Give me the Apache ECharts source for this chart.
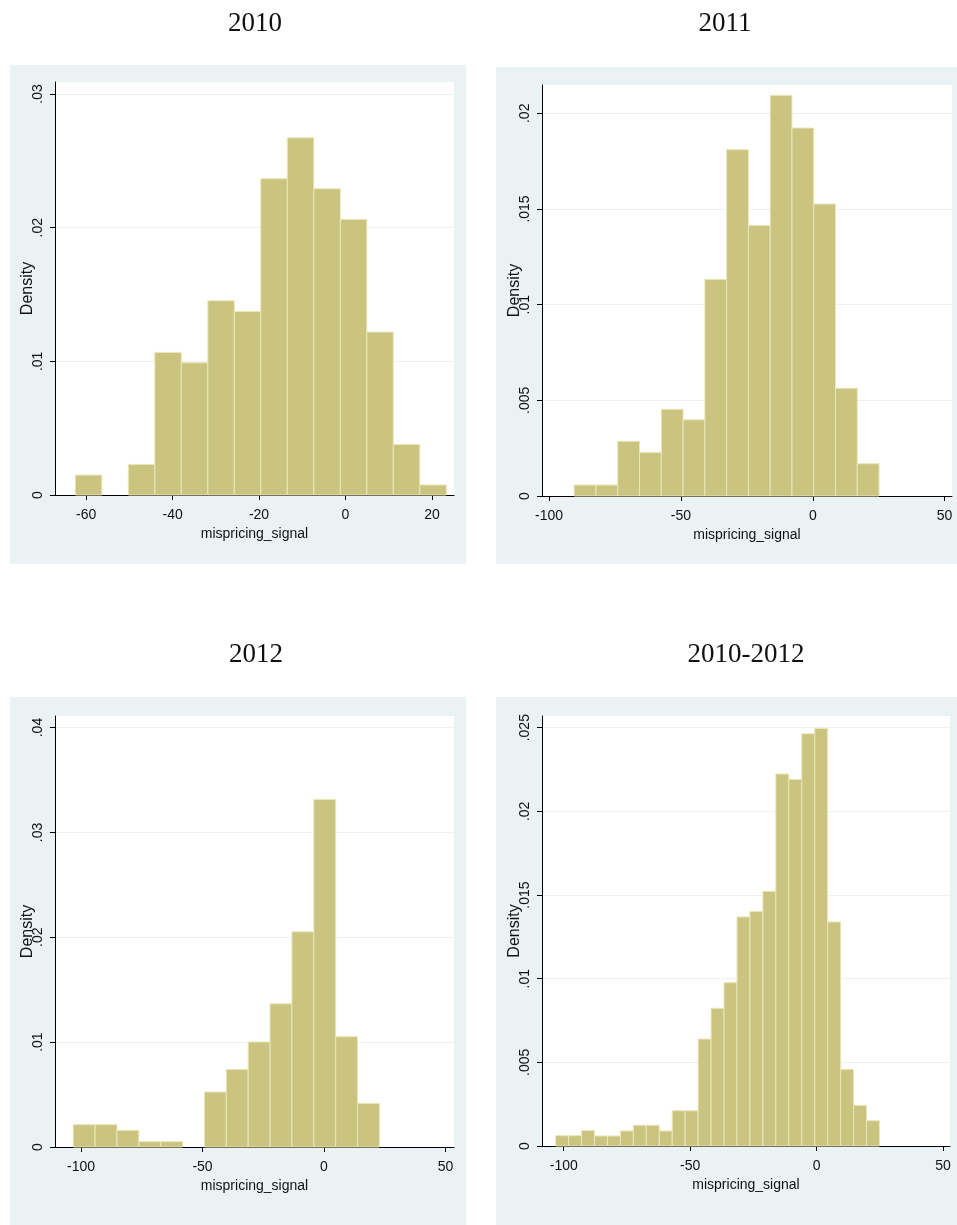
<!DOCTYPE html>
<html>
<head>
<meta charset="utf-8">
<script src="https://cdn.jsdelivr.net/npm/echarts@6/dist/echarts.min.js"></script>
<style>
  html, body { margin: 0; padding: 0; background: #ffffff; }
  #chart { width: 957px; height: 1225px; }
</style>
</head>
<body>
<div id="chart"></div>
<script>
// Density histograms of mispricing_signal, one panel per period.

const panelTitles = ['2010', '2011', '2012', '2010-2012'];

// Bin layout (first edge, bin width) and bar heights (density) per panel
const binStart2010 = -62.5, binWidth2010 = 6.13;
const density2010 = [0.00149, 0, 0.00229, 0.01067, 0.0099, 0.01453, 0.01373,
                     0.02366, 0.02672, 0.02291, 0.02062, 0.01219, 0.00378, 0.00075];

const binStart2011 = -90.5, binWidth2011 = 8.26;
const density2011 = [0.000575, 0.000575, 0.00286, 0.00227, 0.00453, 0.00398, 0.01132,
                     0.0181, 0.01414, 0.02094, 0.01923, 0.01526, 0.00563, 0.00169];

const binStart2012 = -103.2, binWidth2012 = 9.0;
const density2012 = [0.00213, 0.00213, 0.00159, 0.00051, 0.00051, 0, 0.00524,
                     0.0074, 0.01001, 0.01366, 0.02052, 0.03314, 0.01052, 0.00416];

const binStartAll = -103.2, binWidthAll = 5.124;
const densityAll = [0.00062, 0.00062, 0.00092, 0.0006, 0.0006, 0.0009, 0.00124, 0.00124,
                    0.0009, 0.00211, 0.00211, 0.00639, 0.00823, 0.00976, 0.01369, 0.01402,
                    0.01522, 0.02223, 0.02191, 0.02464, 0.02496, 0.01339, 0.00458, 0.00243, 0.00151];

// Tick labels
const xTicks2010 = [-60, -40, -20, 0, 20];
const xTicksWide = [-100, -50, 0, 50];
const yTicks2010 = [0, 0.01, 0.02, 0.03];
const yTicks2011 = [0, 0.005, 0.01, 0.015, 0.02];
const yTicks2012 = [0, 0.01, 0.02, 0.03, 0.04];
const yTicksAll  = [0, 0.005, 0.01, 0.015, 0.02, 0.025];

// Axis ranges
const xRange2010 = [-67.2, 25.1], yMax2010 = 0.0309, yStep2010 = 0.01;
const xRange2011 = [-102.7, 52.8], yMax2011 = 0.02148, yStep2011 = 0.005;
const xRange2012 = [-110.7, 53.5], yMax2012 = 0.0411, yStep2012 = 0.01;
const xRangeAll  = [-108.6, 52.8], yMaxAll  = 0.0257, yStepAll  = 0.005;

const BAR_FILL = '#CBC480';
const BAR_EDGE = '#EAE6B8';
const REGION_BG = '#EAF2F3';
const GRID_LINE = '#EAF2F3';
const LABEL_FONT = '"Liberation Sans", Arial, sans-serif';
const TITLE_FONT = '"Liberation Serif", "DejaVu Serif", serif';

const panels = [
  { title: panelTitles[0], start: binStart2010, width: binWidth2010, dens: density2010,
    xr: xRange2010, xt: xTicks2010, ymax: yMax2010, ystep: yStep2010, yt: yTicks2010,
    box: [10, 65, 456, 499], grid: [55, 82, 399, 413], tx: 250, ty: 5 },
  { title: panelTitles[1], start: binStart2011, width: binWidth2011, dens: density2011,
    xr: xRange2011, xt: xTicksWide, ymax: yMax2011, ystep: yStep2011, yt: yTicks2011,
    box: [496, 67, 461, 497], grid: [542, 85, 410, 411], tx: 720, ty: 5 },
  { title: panelTitles[2], start: binStart2012, width: binWidth2012, dens: density2012,
    xr: xRange2012, xt: xTicksWide, ymax: yMax2012, ystep: yStep2012, yt: yTicks2012,
    box: [10, 697, 456, 528], grid: [55, 716, 399, 431], tx: 251, ty: 636 },
  { title: panelTitles[3], start: binStartAll, width: binWidthAll, dens: densityAll,
    xr: xRangeAll, xt: xTicksWide, ymax: yMaxAll, ystep: yStepAll, yt: yTicksAll,
    box: [496, 697, 461, 528], grid: [542, 716, 408, 430], tx: 741, ty: 636 }
];

function densityLabel(v) {
  if (Math.abs(v) < 1e-12) return '0';
  return String(+v.toFixed(4)).replace(/^0\./, '.');
}

function renderBin(params, api) {
  const h = api.value(2);
  if (!(h > 0)) return null;
  const topLeft = api.coord([api.value(0), h]);
  const bottomRight = api.coord([api.value(1), 0]);
  return {
    type: 'rect',
    shape: {
      x: topLeft[0], y: topLeft[1],
      width: bottomRight[0] - topLeft[0],
      height: bottomRight[1] - topLeft[1]
    },
    style: { fill: BAR_FILL, stroke: BAR_EDGE, lineWidth: 1 }
  };
}

const option = {
  backgroundColor: '#ffffff',
  animation: false,
  title: panels.map(p => ({
    text: p.title, left: p.tx, top: p.ty, textAlign: 'center',
    textStyle: { fontFamily: TITLE_FONT, fontSize: 27, fontWeight: 'normal', color: '#111' }
  })),
  graphic: panels.map(p => ({
    type: 'rect', z: -10, silent: true,
    shape: { x: p.box[0], y: p.box[1], width: p.box[2], height: p.box[3] },
    style: { fill: REGION_BG }
  })),
  grid: panels.map(p => ({
    left: p.grid[0], top: p.grid[1], width: p.grid[2], height: p.grid[3],
    show: true, backgroundColor: '#ffffff', borderWidth: 0, containLabel: false
  })),
  xAxis: panels.map((p, i) => ({
    type: 'value', gridIndex: i, min: p.xr[0], max: p.xr[1],
    name: 'mispricing_signal', nameLocation: 'middle', nameGap: 32, nameMoveOverlap: false,
    nameTextStyle: { fontFamily: LABEL_FONT, fontSize: 14, color: '#111' },
    axisLine: { show: true, onZero: false, lineStyle: { color: '#000', width: 1 } },
    axisTick: { show: true, length: 5, customValues: p.xt, lineStyle: { color: '#000' } },
    axisLabel: { customValues: p.xt, margin: 13, fontFamily: LABEL_FONT, fontSize: 14, color: '#111' },
    splitLine: { show: false }
  })),
  yAxis: panels.map((p, i) => ({
    type: 'value', gridIndex: i, min: 0, max: p.ymax, interval: p.ystep,
    name: 'Density', nameLocation: 'middle', nameGap: 19, nameRotate: 90, nameMoveOverlap: false,
    nameTextStyle: { fontFamily: LABEL_FONT, fontSize: 16, color: '#111' },
    axisLine: { show: true, onZero: false, lineStyle: { color: '#000', width: 1 } },
    axisTick: { show: true, length: 5, customValues: p.yt, lineStyle: { color: '#000' } },
    axisLabel: { customValues: p.yt, rotate: 90, margin: 10, formatter: densityLabel,
                 fontFamily: LABEL_FONT, fontSize: 14, color: '#111' },
    splitLine: { show: true, lineStyle: { color: GRID_LINE, width: 1 } }
  })),
  series: panels.map((p, i) => ({
    type: 'custom', xAxisIndex: i, yAxisIndex: i,
    renderItem: renderBin,
    encode: { x: [0, 1], y: 2 },
    data: p.dens.map((h, k) => [p.start + k * p.width, p.start + (k + 1) * p.width, h])
  }))
};

const chart = echarts.init(document.getElementById('chart'), null, { renderer: 'canvas' });
chart.setOption(option);
</script>
</body>
</html>
